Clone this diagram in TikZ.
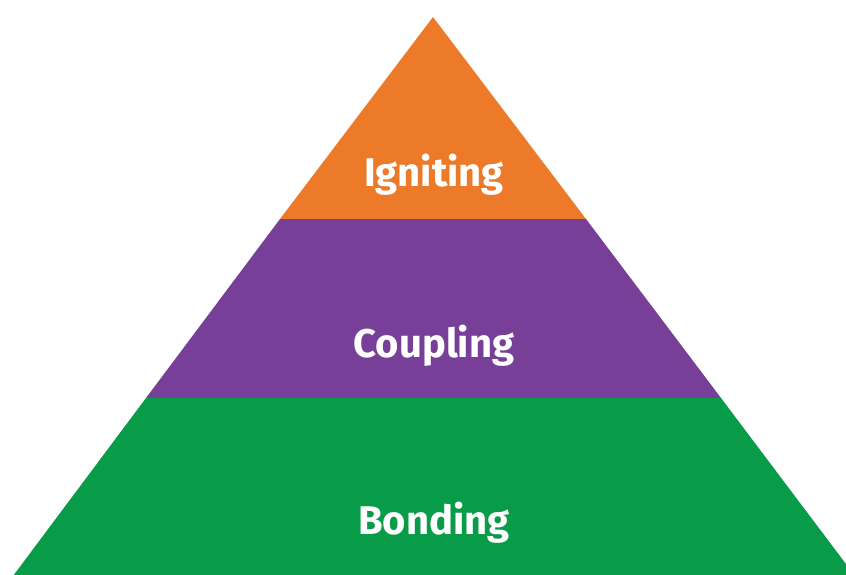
\documentclass[tikz,border=0pt]{standalone}
\usepackage{fontspec}
\setmainfont{Fira Sans}
\definecolor{cOrange}{HTML}{ED7A29}
\definecolor{cPurple}{HTML}{773F98}
\definecolor{cGreen}{HTML}{089B48}
\begin{document}
\begin{tikzpicture}[x=1pt,y=-1pt,
  layerlabel/.style={text=white,font=\fontsize{40}{44}\selectfont\bfseries,anchor=base,inner sep=0pt}]
\useasboundingbox (0,0) rectangle (846,574);
\clip (0,0) rectangle (846,574);
\coordinate (apex) at (433,17);
\coordinate (l1) at (280,219);
\coordinate (r1) at (586,219);
\coordinate (l2) at (146,398);
\coordinate (r2) at (721,398);
\coordinate (l3) at (13,576);
\coordinate (r3) at (855,576);
\fill[cOrange] (apex) -- (r1) -- (l1) -- cycle;
\fill[cPurple] (l1) -- (r1) -- (r2) -- (l2) -- cycle;
\fill[cGreen] (l2) -- (r2) -- (r3) -- (l3) -- cycle;
\node[layerlabel] (ign) at (434,186) {Igniting};
\node[layerlabel] (cou) at (434,357) {Coupling};
\node[layerlabel] (bon) at (434,534) {Bonding};
\end{tikzpicture}
\end{document}
